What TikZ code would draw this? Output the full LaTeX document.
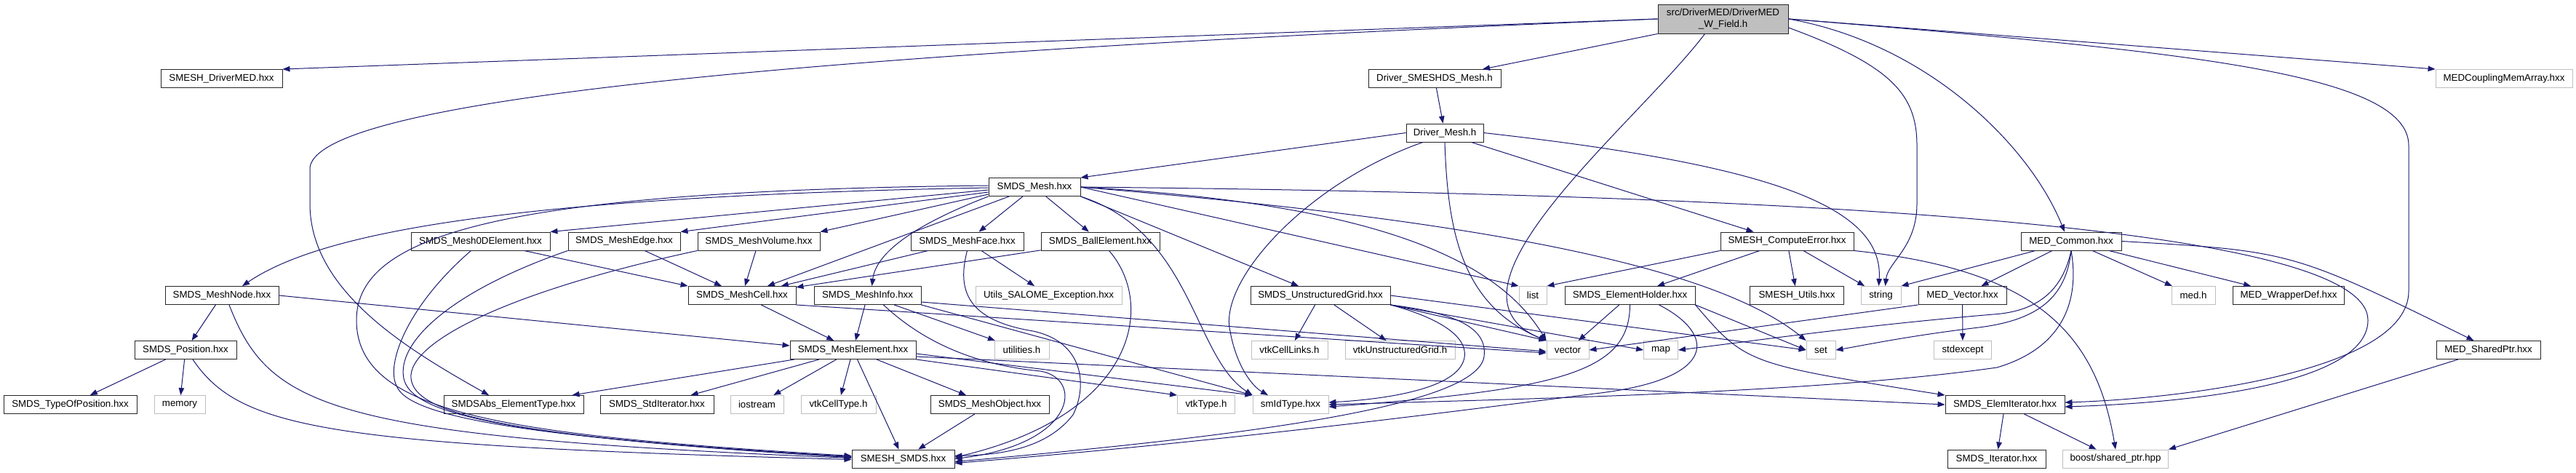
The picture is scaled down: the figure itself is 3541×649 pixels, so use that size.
\documentclass[tikz,border=0pt]{standalone}
\usepackage{fontspec}
\setmainfont{Liberation Sans}
\usetikzlibrary{arrows.meta}
\definecolor{edgec}{HTML}{191970}
\definecolor{extc}{HTML}{BFBFBF}
\tikzset{
 box/.style={draw=black!85, line width=0.9pt, fill=white, minimum height=25pt, inner sep=0pt, font=\fontsize{13.3pt}{16pt}\selectfont, text=black},
 ext/.style={box, draw=extc},
 dep/.style={draw=edgec, line width=1pt, -{Triangle[length=10pt,width=7.5pt]}},
}
\begin{document}
\begin{tikzpicture}[x=1pt,y=-1pt]
\useasboundingbox (0,0) rectangle (3541,649);
% row 0
\node[box, fill=extc, minimum width=179pt, minimum height=40pt, align=center] (root) at (2368.5,26) {src/DriverMED/DriverMED\\\_W\_Field.h};
% row 1
\node[box, minimum width=167pt] (drvmed) at (304.5,108) {SMESH\_DriverMED.hxx};
\node[box, minimum width=182pt] (dsm) at (1972,108) {Driver\_SMESHDS\_Mesh.h};
\node[ext, minimum width=188pt] (medc) at (3442,108) {MEDCouplingMemArray.hxx};
% row 2
\node[box, minimum width=106pt] (dm) at (1986,182.5) {Driver\_Mesh.h};
% row 3
\node[box, minimum width=126pt] (mesh) at (1422,257) {SMDS\_Mesh.hxx};
% row 4
\node[box, minimum width=191pt] (m0d) at (660.5,331.5) {SMDS\_Mesh0DElement.hxx};
\node[box, minimum width=154pt] (medge) at (858,331.5) {SMDS\_MeshEdge.hxx};
\node[box, minimum width=168pt] (mvol) at (1043,331.5) {SMDS\_MeshVolume.hxx};
\node[box, minimum width=155pt] (mface) at (1329.5,331.5) {SMDS\_MeshFace.hxx};
\node[box, minimum width=163pt] (ball) at (1512.5,331.5) {SMDS\_BallElement.hxx};
\node[box, minimum width=183pt] (ce) at (2456.5,331.5) {SMESH\_ComputeError.hxx};
\node[box, minimum width=138pt] (medcom) at (2847,331.5) {MED\_Common.hxx};
% row 5
\node[box, minimum width=156pt] (mnode) at (305,406) {SMDS\_MeshNode.hxx};
\node[box, minimum width=148pt] (mcell) at (1020,406) {SMDS\_MeshCell.hxx};
\node[box, minimum width=147pt] (minfo) at (1192.5,406) {SMDS\_MeshInfo.hxx};
\node[ext, minimum width=201pt] (utils) at (1441.5,406) {Utils\_SALOME\_Exception.hxx};
\node[box, minimum width=192pt] (ug) at (1815,406) {SMDS\_UnstructuredGrid.hxx};
\node[ext, minimum width=38pt] (list) at (2107,406) {list};
\node[box, minimum width=179pt] (eh) at (2240.5,406) {SMDS\_ElementHolder.hxx};
\node[box, minimum width=129pt] (smu) at (2470,406) {SMESH\_Utils.hxx};
\node[ext, minimum width=55pt] (string) at (2585.5,406) {string};
\node[box, minimum width=121pt] (medvec) at (2697.5,406) {MED\_Vector.hxx};
\node[ext, minimum width=60pt] (medh) at (3015,406) {med.h};
\node[box, minimum width=153pt] (medwd) at (3146,406) {MED\_WrapperDef.hxx};
% row 6
\node[box, minimum width=140pt] (pos) at (255,481) {SMDS\_Position.hxx};
\node[box, minimum width=173pt] (elem) at (1172.5,481) {SMDS\_MeshElement.hxx};
\node[ext, minimum width=75pt] (utilh) at (1404.5,481) {utilities.h};
\node[ext, minimum width=105pt] (vcl) at (1772.5,481) {vtkCellLinks.h};
\node[ext, minimum width=151pt] (vug) at (1924.5,481) {vtkUnstructuredGrid.h};
\node[ext, minimum width=58pt] (vector) at (2155,481) {vector};
\node[ext, minimum width=47pt] (map) at (2283,481) {map};
\node[ext, minimum width=40pt] (set) at (2503,481) {set};
\node[ext, minimum width=79pt] (stdex) at (2698,481) {stdexcept};
\node[box, minimum width=143pt] (medsp) at (3420.5,481) {MED\_SharedPtr.hxx};
% row 7
\node[box, minimum width=183pt] (top) at (96.5,556) {SMDS\_TypeOfPosition.hxx};
\node[ext, minimum width=70pt] (memory) at (247,556) {memory};
\node[box, minimum width=192pt] (abs) at (706,556) {SMDSAbs\_ElementType.hxx};
\node[box, minimum width=156pt] (stdit) at (903,556) {SMDS\_StdIterator.hxx};
\node[ext, minimum width=73pt] (iostream) at (1040.5,556) {iostream};
\node[ext, minimum width=103pt] (vct) at (1152.5,556) {vtkCellType.h};
\node[box, minimum width=163pt] (mobj) at (1360.5,556) {SMDS\_MeshObject.hxx};
\node[ext, minimum width=79pt] (vtkt) at (1658,556) {vtkType.h};
\node[ext, minimum width=104pt] (smid) at (1774,556) {smIdType.hxx};
\node[box, minimum width=164pt] (elit) at (2756,556) {SMDS\_ElemIterator.hxx};
% row 8
\node[box, minimum width=141pt] (smds) at (1241.5,630.5) {SMESH\_SMDS.hxx};
\node[box, minimum width=135pt] (iter) at (2744.5,630.5) {SMDS\_Iterator.hxx};
\node[ext, minimum width=145pt] (boost) at (2908,630.5) {boost/shared\_ptr.hpp};

% ---- root edges
\draw[dep] (root.west) -- (drvmed.north east);
\draw[dep] (root.west) .. controls (1200,70) and (440,130) .. (426,230) -- (426,280) .. controls (426,400) and (560,480) .. ([xshift=-34pt]abs.north);
\draw[dep] (root.south west) -- ([xshift=66pt]dsm.north);
\draw[dep] (root.east) -- (medc.north west);
\draw[dep] ([xshift=-25pt]root.south) .. controls (2250,170) and (1960,400) .. (vector.north west);
\draw[dep] ([yshift=-12pt]root.east) .. controls (2600,90) and (2635,130) .. (2635,200) -- (2635,280) .. controls (2635,340) and (2595,360) .. ([xshift=6pt]string.north);
\draw[dep] (root.east) .. controls (2650,60) and (2790,200) .. ([xshift=-9pt]medcom.north);
\draw[dep] (root.east) .. controls (3000,70) and (3311,100) .. (3311,200) -- (3311,400) .. controls (3311,510) and (3000,548) .. ([yshift=3pt]elit.east);
% ---- driver
\draw[dep] (dsm) -- (dm);
\draw[dep] (dm.west) -- (mesh.north east);
\draw[dep] ([xshift=-17pt]dm.south east) -- ([xshift=-46pt]ce.north);
\draw[dep] (dm.east) .. controls (2420,225) and (2590,280) .. ([xshift=-3pt]string.north);
\draw[dep] (dm.south) .. controls (1990,320) and (2010,420) .. (vector.north west);
\draw[dep] ([xshift=-30pt]dm.south) .. controls (1800,250) and (1680,380) .. (1690,450) .. controls (1698,500) and (1720,530) .. ([xshift=-31pt]smid.north);
% ---- SMDS_Mesh
\draw[dep] ([yshift=-4pt]mesh.west) -- (m0d.north east);
\draw[dep] ([yshift=-7pt]mesh.west) -- (medge.north east);
\draw[dep] ([yshift=-10pt]mesh.west) -- (mvol.north east);
\draw[dep] (mesh) -- (mface);
\draw[dep] (mesh) -- (ball);
\draw[dep] (mesh) -- (mcell);
\draw[dep] (mesh.south west) .. controls (1280,300) and (1205,340) .. ([xshift=6pt]minfo.north);
\draw[dep] (mesh.south east) -- ([xshift=-30pt]ug.north);
\draw[dep] (mesh.east) -- (list.north west);
\draw[dep] (mesh.east) .. controls (1900,280) and (2060,360) .. (vector.north west);
\draw[dep] (mesh.east) .. controls (2000,300) and (2350,360) .. (set.north west);
\draw[dep] (mesh.east) .. controls (2600,268) and (3255,320) .. (3255,440) .. controls (3255,520) and (3050,552) .. ([yshift=-3pt]elit.east);
\draw[dep] (mesh.south east) .. controls (1640,320) and (1640,490) .. (smid.north west);
\draw[dep] ([yshift=2pt]mesh.west) .. controls (700,262) and (490,320) .. (490,440) .. controls (490,570) and (700,598) .. ([yshift=4pt]smds.west);
\draw[dep] ([yshift=-1pt]mesh.west) .. controls (700,270) and (440,320) .. ([xshift=28pt]mnode.north);
% ---- node / position
\draw[dep] (mnode) -- (pos);
\draw[dep] (mnode.east) -- ([yshift=6pt]elem.west);
\draw[dep] ([xshift=10pt]mnode.south) .. controls (370,560) and (450,600) .. ([yshift=1pt]smds.west);
\draw[dep] (pos) -- (top);
\draw[dep] (pos) -- (memory);
\draw[dep] ([xshift=10pt]pos.south) .. controls (330,590) and (450,612) .. ([yshift=-1pt]smds.west);
% ---- cells
\draw[dep] (m0d) -- (mcell.north west);
\draw[dep] ([xshift=-13pt]m0d.south) .. controls (560,420) and (530,500) .. (545,530) .. controls (560,570) and (700,600) .. ([yshift=3pt]smds.west);
\draw[dep] (medge) -- (mcell);
\draw[dep] (medge.south west) .. controls (620,400) and (545,470) .. (555,520) .. controls (565,570) and (700,600) .. ([yshift=2pt]smds.west);
\draw[dep] (mvol) -- (mcell);
\draw[dep] (mvol.south west) .. controls (700,400) and (560,470) .. (565,520) .. controls (570,570) and (700,600) .. ([yshift=2pt]smds.west);
\draw[dep] (mface) -- (mcell);
\draw[dep] (mface) -- (utils);
\draw[dep] (mface.south) .. controls (1315,400) and (1330,440) .. (1420,455) .. controls (1490,470) and (1495,530) .. (1475,570) .. controls (1440,615) and (1380,625) .. ([yshift=4pt]smds.east);
\draw[dep] (ball) -- (mcell);
\draw[dep] ([xshift=12pt]ball.south) .. controls (1590,420) and (1560,570) .. ([yshift=2pt]smds.east);
\draw[dep] (mcell) -- (elem);
\draw[dep] (mcell.south east) -- ([yshift=-4pt]vector.west);
\draw[dep] (minfo) -- (elem);
\draw[dep] (minfo) -- (utilh);
\draw[dep] ([xshift=22pt]minfo.south) .. controls (1290,490) and (1380,505) .. (1430,510) .. controls (1490,520) and (1480,610) .. (smds.east);
\draw[dep] (minfo.south east) -- (smid.north west);
\draw[dep] ([yshift=-9pt]minfo.east) -- ([yshift=-2pt]vector.west);
% ---- element
\draw[dep] (elem) -- (abs);
\draw[dep] (elem) -- (stdit);
\draw[dep] (elem) -- (iostream);
\draw[dep] (elem) -- (vct);
\draw[dep] (elem) -- (mobj);
\draw[dep] (elem) -- (smds);
\draw[dep] (elem.south east) -- (vtkt.north west);
\draw[dep] ([yshift=-5pt]elem.east) -- (smid.north west);
\draw[dep] ([yshift=-9pt]elem.east) -- (elit.west);
\draw[dep] (mobj) -- (smds);
% ---- unstructured grid
\draw[dep] (ug) -- (vcl);
\draw[dep] (ug) -- (vug);
\draw[dep] (ug.south east) -- (vector.north west);
\draw[dep] (ug.south east) -- (map.west);
\draw[dep] (ug.east) -- (set.west);
\draw[dep] (ug.south east) .. controls (1990,440) and (2025,470) .. (2010,500) .. controls (1990,540) and (1880,550) .. ([yshift=3pt]smid.east);
\draw[dep] (ug.south east) .. controls (2000,430) and (2045,450) .. (2040,490) .. controls (2030,560) and (1700,600) .. ([yshift=-4pt]smds.east);
% ---- element holder
\draw[dep] (eh) -- (vector);
\draw[dep] (eh.south) .. controls (2240,510) and (2150,535) .. ([yshift=-3pt]smid.east);
\draw[dep] ([xshift=40pt]eh.south) .. controls (2360,460) and (2360,520) .. (2200,540) .. controls (2000,565) and (1700,605) .. ([yshift=-6pt]smds.east);
\draw[dep] (eh.south east) -- (set.west);
\draw[dep] (eh.south east) .. controls (2400,500) .. (elit.north west);
% ---- compute error
\draw[dep] (ce.south west) -- (list.north east);
\draw[dep] (ce) -- (eh);
\draw[dep] (ce) -- (smu);
\draw[dep] (ce) -- (string);
\draw[dep] (ce.south east) .. controls (2790,370) and (2880,450) .. (boost.north);
% ---- MED
\draw[dep] (medcom) -- (string.north east);
\draw[dep] (medcom) -- (medvec);
\draw[dep] (medcom.south) .. controls (2835,400) and (2800,428) .. (2740,432) .. controls (2550,448) and (2400,470) .. (map.east);
\draw[dep] (medcom.south) .. controls (2840,410) and (2800,440) .. (2720,450) .. controls (2620,462) and (2560,475) .. (set.east);
\draw[dep] (medcom.south) .. controls (2860,420) and (2830,480) .. (2745,505) .. controls (2500,540) and (2100,548) .. (smid.east);
\draw[dep] (medcom) -- (medh);
\draw[dep] (medcom) -- (medwd);
\draw[dep] (medcom.east) .. controls (3150,345) .. ([xshift=-20pt]medsp.north);
\draw[dep] (medvec.south west) -- (vector.east);
\draw[dep] (medvec) -- (stdex);
\draw[dep] (medsp) -- (boost.north east);
\draw[dep] (elit) -- (iter);
\draw[dep] (elit) -- (boost);
\end{tikzpicture}
\end{document}
